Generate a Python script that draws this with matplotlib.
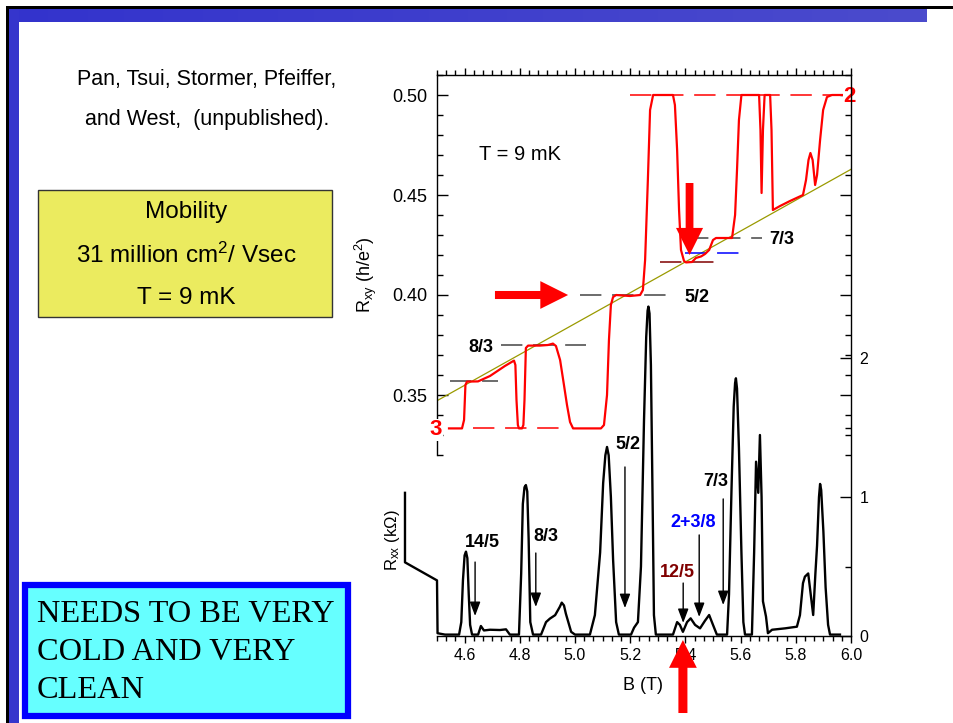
import numpy as np
import matplotlib
matplotlib.use('Agg')
import matplotlib.pyplot as plt
from matplotlib.patches import Rectangle
from matplotlib.colors import LinearSegmentedColormap
from matplotlib.ticker import MultipleLocator, FixedLocator, FormatStrFormatter

plt.rcParams['font.family'] = ['Liberation Sans', 'DejaVu Sans']
plt.rcParams['mathtext.fontset'] = 'custom'
plt.rcParams['mathtext.rm'] = 'Liberation Sans'
plt.rcParams['mathtext.it'] = 'Liberation Sans:italic'
plt.rcParams['mathtext.bf'] = 'Liberation Sans:bold'

# ---------------- data ----------------
# Hall resistance R_xy (h/e^2) vs B (T)
rxy_B = [4.5435, 4.5906, 4.598, 4.603, 4.6087, 4.6486, 4.692, 4.746, 4.779,
         4.784, 4.788, 4.793, 4.797, 4.808, 4.813, 4.817, 4.822, 4.830, 4.873,
         4.902, 4.920, 4.931, 4.946, 4.960, 4.971, 4.982, 4.993, 5.094, 5.105,
         5.116, 5.123, 5.130, 5.138, 5.149, 5.199, 5.236, 5.246, 5.254, 5.264,
         5.272, 5.283, 5.355, 5.362, 5.370, 5.377, 5.384, 5.395, 5.402, 5.424,
         5.438, 5.457, 5.471, 5.486, 5.500, 5.511, 5.569, 5.580, 5.587, 5.594,
         5.603, 5.667, 5.672, 5.676, 5.681, 5.687, 5.707, 5.712, 5.717, 5.743,
         5.779, 5.826, 5.837, 5.846, 5.853, 5.861, 5.870, 5.877, 5.888, 5.899,
         5.913, 5.931, 5.978]
rxy_R = [0.3333, 0.3333, 0.3375, 0.355, 0.3567, 0.3568, 0.3595, 0.3645, 0.3672,
         0.365, 0.3475, 0.335, 0.3333, 0.3333, 0.335, 0.3475, 0.3735, 0.3747, 0.3747,
         0.375, 0.3757, 0.3745, 0.3675, 0.355, 0.345, 0.3365, 0.3333, 0.3333, 0.335,
         0.35, 0.3775, 0.395, 0.399, 0.400, 0.3995, 0.400, 0.4025, 0.4175, 0.4575,
         0.4925, 0.500, 0.500, 0.495, 0.4725, 0.4425, 0.4225, 0.417, 0.4163, 0.4165,
         0.4185, 0.4193, 0.4205, 0.4225, 0.4275, 0.4285, 0.4285, 0.440, 0.4625, 0.4875,
         0.500, 0.500, 0.4825, 0.451, 0.4825, 0.500, 0.500, 0.4825, 0.4425, 0.4445,
         0.447, 0.450, 0.4575, 0.4675, 0.471, 0.4675, 0.455, 0.460, 0.4775, 0.4925,
         0.499, 0.500, 0.500]

# Longitudinal resistance R_xx (kOhm) vs B (T)
rxx_B = [4.384, 4.384, 4.500, 4.502, 4.529, 4.580, 4.588, 4.594, 4.600, 4.605, 4.610,
         4.615, 4.620, 4.627, 4.649, 4.659, 4.670, 4.692, 4.728, 4.750, 4.764, 4.797,
         4.805, 4.811, 4.817, 4.822, 4.827, 4.832, 4.838, 4.848, 4.877, 4.895, 4.909,
         4.928, 4.945, 4.952, 4.960, 4.967, 4.986, 5.000, 5.054, 5.072, 5.091, 5.102,
         5.110, 5.116, 5.122, 5.130, 5.138, 5.149, 5.159, 5.203, 5.214, 5.228, 5.239,
         5.250, 5.258, 5.263, 5.266, 5.270, 5.275, 5.281, 5.286, 5.293, 5.355, 5.370,
         5.380, 5.391, 5.406, 5.419, 5.435, 5.453, 5.471, 5.486, 5.500, 5.514, 5.551,
         5.558, 5.567, 5.575, 5.580, 5.583, 5.587, 5.594, 5.603, 5.610, 5.616, 5.641,
         5.649, 5.656, 5.664, 5.670, 5.676, 5.681, 5.686, 5.692, 5.699, 5.714, 5.761,
         5.804, 5.815, 5.826, 5.833, 5.845, 5.851, 5.863, 5.871, 5.877, 5.884, 5.888,
         5.892, 5.900, 5.908, 5.917, 5.924, 5.960]
rxx_R = [1.03, 0.53, 0.40, 0.02, 0.01, 0.01, 0.10, 0.40, 0.58, 0.607, 0.56,
         0.30, 0.08, 0.01, 0.01, 0.072, 0.04, 0.045, 0.043, 0.048, 0.01, 0.01,
         0.45, 0.95, 1.07, 1.086, 1.04, 0.70, 0.10, 0.01, 0.01, 0.10, 0.125,
         0.15, 0.21, 0.24, 0.22, 0.16, 0.03, 0.01, 0.01, 0.15, 0.60, 1.10,
         1.30, 1.36, 1.30, 1.00, 0.55, 0.10, 0.01, 0.01, 0.06, 0.10, 0.50,
         1.55, 2.15, 2.34, 2.37, 2.32, 1.95, 1.00, 0.15, 0.01, 0.01, 0.10,
         0.08, 0.03, 0.10, 0.127, 0.08, 0.055, 0.11, 0.151, 0.08, 0.01, 0.01,
         0.30, 1.05, 1.65, 1.82, 1.854, 1.78, 1.35, 0.60, 0.10, 0.01, 0.01,
         0.60, 1.254, 1.03, 1.446, 1.00, 0.25, 0.20, 0.14, 0.02, 0.045, 0.055,
         0.067, 0.15, 0.38, 0.427, 0.45, 0.35, 0.151, 0.45, 0.65, 1.00, 1.094,
         1.05, 0.75, 0.35, 0.08, 0.01, 0.01]

hall_slope = 0.07714  # classical Hall line, R_xy = slope * B

# plateau reference levels (h/e^2)
ref_level = [1/3, 5/14, 3/8, 2/5, 3/7, 8/19, 5/12, 1/2]
ref_start = [4.630, 4.547, 4.732, 5.018, 5.406, 5.399, 5.308, 5.199]
ref_end = [4.964, 4.720, 5.040, 5.362, 5.678, 5.605, 5.525, 5.980]
ref_color = ['red', '#444444', '#444444', '#444444', '#444444', 'blue', '#800000', 'red']

# upper panel labels
up_text = ['8/3', '5/2', '7/3']
up_B = [4.659, 5.442, 5.750]
up_R = [0.3735, 0.3985, 0.4275]

# lower panel fraction labels with arrows
lo_text = ['14/5', '8/3', '5/2', '7/3', '2+3/8', '12/5']
lo_color = ['black', 'black', 'black', 'black', 'blue', '#800000']
lo_textB = [4.663, 4.895, 5.192, 5.511, 5.428, 5.370]
lo_textR = [0.676, 0.719, 1.381, 1.108, 0.813, 0.46]
lo_arrowB = [4.638, 4.858, 5.181, 5.537, 5.450, 5.392]
lo_arrow_tail = [0.532, 0.597, 1.216, 0.986, 0.727, 0.381]
lo_arrow_tip = [0.144, 0.209, 0.201, 0.223, 0.137, 0.094]

rxy_ticks = [0.35, 0.40, 0.45, 0.50]
rxx_ticks = [0, 1, 2]

# ---------------- figure ----------------
W, H = 954, 723
fig = plt.figure(figsize=(W / 100, H / 100), dpi=100)


def fx(x):
    return x / W


def fy(y):
    return 1 - y / H


def frect(x0, y0, x1, y1, **kw):
    r = Rectangle((fx(x0), fy(y1)), (x1 - x0) / W, (y1 - y0) / H,
                  transform=fig.transFigure, **kw)
    fig.add_artist(r)
    return r


# slide decoration
frect(6.5, 6, 953, 8.7, facecolor='black', edgecolor='none')
frect(6.5, 6, 9.3, H, facecolor='black', edgecolor='none')
frect(9.3, 8.7, 19, H, facecolor='#3535CC', edgecolor='none')
bar = fig.add_axes([fx(9.3), fy(21.7), (927 - 9.3) / W, 13 / H])
grad = np.linspace(0, 1, 256)[None, :]
cm = LinearSegmentedColormap.from_list('bar', ['#3333CC', '#4B4BCC'])
bar.imshow(grad, aspect='auto', cmap=cm)
bar.set_axis_off()

# left texts
fig.text(fx(207), fy(80), 'Pan, Tsui, Stormer, Pfeiffer,', ha='center', va='center', fontsize=15.5)
fig.text(fx(207), fy(119), 'and West,  (unpublished).', ha='center', va='center', fontsize=15.5)

frect(38, 190, 332, 317, facecolor='#EBEB5F', edgecolor='#333333', linewidth=1)
fig.text(fx(186), fy(212), 'Mobility', ha='center', va='center', fontsize=17.5)
fig.text(fx(186), fy(255), '31 million cm$^{\\mathrm{2}}$/ Vsec', ha='center', va='center', fontsize=17.5)
fig.text(fx(186), fy(298), 'T = 9 mK', ha='center', va='center', fontsize=17.5)

frect(25, 585, 348, 716, facecolor='#66FFFF', edgecolor='#0000FF', linewidth=4.5)
for i, line in enumerate(['NEEDS TO BE VERY', 'COLD AND VERY', 'CLEAN']):
    fig.text(fx(37), fy(614 + 38 * i), line, ha='left', va='center',
             fontsize=23.3, family=['Liberation Serif', 'DejaVu Serif'])

# ---------------- axes ----------------
ax1 = fig.add_axes([fx(437), fy(636), (851 - 437) / W, (636 - 75) / H])
ax1.set_xlim(4.5, 6.0)
ax1.set_ylim(0.5 - (636 - 95) / 2000, 0.5 + (95 - 75) / 2000)
ax2 = ax1.twinx()
ax2.set_ylim(0, (636 - 75) / 139)
ax2.patch.set_visible(False)

for s in ['left', 'top', 'bottom']:
    ax2.spines[s].set_visible(False)
ax1.spines['right'].set_visible(False)
ax1.spines['left'].set_bounds(0.32, 0.51)
for a in (ax1, ax2):
    for s in a.spines.values():
        s.set_linewidth(1.0)

ax1.xaxis.set_major_locator(MultipleLocator(0.2))
ax1.xaxis.set_minor_locator(MultipleLocator(0.2 / 6))
ax1.xaxis.set_major_formatter(FormatStrFormatter('%.1f'))
ax1.tick_params(axis='x', which='both', direction='out', top=True, bottom=True,
                labelsize=11.5, pad=4, width=1)
ax1.tick_params(axis='x', which='major', length=5)
ax1.tick_params(axis='x', which='minor', length=3.5)

ax1.yaxis.set_major_locator(FixedLocator(rxy_ticks))
ax1.yaxis.set_minor_locator(FixedLocator(np.round(np.arange(0.32, 0.515, 0.01), 3)))
ax1.yaxis.set_major_formatter(FormatStrFormatter('%.2f'))
ax1.tick_params(axis='y', which='both', direction='in', left=True, right=True,
                labelsize=13, pad=7, width=1)
ax1.tick_params(axis='y', which='major', length=8)
ax1.tick_params(axis='y', which='minor', length=4)

ax2.yaxis.set_major_locator(FixedLocator(rxx_ticks))
ax2.yaxis.set_minor_locator(FixedLocator([0.5, 1.5]))
ax2.yaxis.set_major_formatter(FormatStrFormatter('%d'))
ax2.tick_params(axis='y', which='both', direction='in', right=True, left=False,
                labelsize=11.5, pad=6, width=1)
ax2.tick_params(axis='y', which='major', length=8)
ax2.tick_params(axis='y', which='minor', length=4)

# Hall line
Bl = np.array(ax1.get_xlim())
ax1.plot(Bl, hall_slope * Bl, color='#9A9A00', lw=0.9, zorder=2)

# reference dashes
for lev, b0, b1, c in zip(ref_level, ref_start, ref_end, ref_color):
    ax1.plot([b0, b1], [lev, lev], color=c, lw=1.1, dashes=(14, 7), zorder=2.2)

# Rxy trace
ax1.plot(rxy_B, rxy_R, color='red', lw=1.6, zorder=3, solid_joinstyle='round')

# Rxx trace
ax2.plot(rxx_B, rxx_R, color='black', lw=1.7, zorder=3, clip_on=False,
         solid_joinstyle='round')

# upper labels
for t, b, r in zip(up_text, up_B, up_R):
    ax1.text(b, r, t, ha='center', va='center', fontsize=13, fontweight='bold')
ax1.text(4.80, 0.470, 'T = 9 mK', ha='center', va='center', fontsize=14.5)
ax1.text(4.496, 0.3325, '3', ha='center', va='center', fontsize=16, fontweight='bold',
         color='red', zorder=5, clip_on=False,
         bbox=dict(facecolor='white', edgecolor='none', pad=0.3))
ax1.text(5.996, 0.4995, '2', ha='center', va='center', fontsize=16, fontweight='bold',
         color='red', zorder=5, clip_on=False,
         bbox=dict(facecolor='white', edgecolor='none', pad=0.3))

# lower labels and arrows
for t, c, tb, tr, ab, a0, a1 in zip(lo_text, lo_color, lo_textB, lo_textR,
                                   lo_arrowB, lo_arrow_tail, lo_arrow_tip):
    ax2.text(tb, tr, t, ha='center', va='center', fontsize=13, fontweight='bold', color=c)
    ax2.annotate('', xy=(ab, a1), xytext=(ab, a0),
                 arrowprops=dict(arrowstyle='-|>,head_length=0.85,head_width=0.32',
                                 lw=1.0, color='black', shrinkA=0, shrinkB=0,
                                 mutation_scale=10))


# big red arrows
def big_arrow(ax, tail, tip, hl, hw, tw):
    ax.annotate('', xy=tip, xytext=tail, annotation_clip=False,
                arrowprops=dict(arrowstyle=f'simple,head_length={hl},head_width={hw},tail_width={tw}',
                                color='red', shrinkA=0, shrinkB=0, mutation_scale=1,
                                lw=0), zorder=6)


big_arrow(ax1, (4.710, 0.400), (4.975, 0.400), 20, 20, 5.8)
big_arrow(ax1, (5.415, 0.456), (5.415, 0.420), 19.5, 19.5, 5.6)
big_arrow(ax2, (5.391, -0.554), (5.391, -0.029), 20, 20, 6.5)

# axis labels
fig.text(fx(643), fy(686), 'B (T)', ha='center', va='center', fontsize=13)
fig.text(fx(366), fy(275), 'R$_{\\mathrm{xy}}$ (h/e$^{\\mathrm{2}}$)', ha='center', va='center',
         fontsize=13, rotation=90)
fig.text(fx(393), fy(540), 'R$_{\\mathrm{xx}}$ (k\u03a9)', ha='center', va='center',
         fontsize=12, rotation=90)

fig.savefig('out.png', dpi=100)
